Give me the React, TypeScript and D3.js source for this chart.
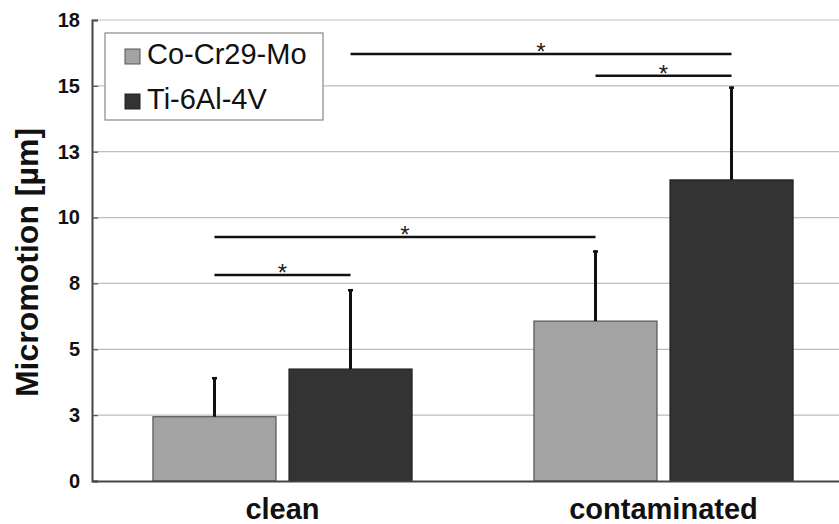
import React, { useRef, useEffect } from 'react';
import * as d3 from 'd3';

const categories = ['clean', 'contaminated'];
const seriesNames = ['Co-Cr29-Mo', 'Ti-6Al-4V'];
const coCrValues = [2.44, 6.07];
const coCrErrors = [1.5, 2.68];
const tiValues = [4.25, 11.43];
const tiErrors = [3.03, 3.54];
const yTicks = [0, 2.5, 5, 7.5, 10, 12.5, 15, 17.5];
const yTickLabels = ['0', '3', '5', '8', '10', '13', '15', '18'];
// significance brackets: [category, series] -> [category, series] at a height
const sigLines = [
  { from: [0, 0], to: [0, 1], level: 7.82 },
  { from: [0, 0], to: [1, 0], level: 9.26 },
  { from: [0, 1], to: [1, 1], level: 16.21 },
  { from: [1, 0], to: [1, 1], level: 15.38 },
];

const W = 839;
const H = 524;
const FONT = '"Liberation Sans", Arial, Helvetica, sans-serif';
const colors = ['#a3a3a3', '#333333'];
const strokes = ['#555555', '#222222'];

const App = () => {
  const ref = useRef<SVGSVGElement>(null);

  useEffect(() => {
    const margin = { top: 20, left: 92, bottom: 43, right: -15 };

    const x0 = d3.scaleBand()
      .domain(categories)
      .range([margin.left, W - margin.right])
      .padding(0);

    const x1 = d3.scaleBand()
      .domain(seriesNames)
      .range([0, x0.bandwidth()])
      .paddingInner(0.0956)
      .paddingOuter(0.448);

    const y = d3.scaleLinear()
      .domain([0, 17.5])
      .range([H - margin.bottom, margin.top]);

    const svg = d3.select(ref.current);
    svg.selectAll('*').remove();

    const data = seriesNames.map((name, s) => ({
      name,
      values: s === 0 ? coCrValues : tiValues,
      errors: s === 0 ? coCrErrors : tiErrors,
    }));

    const cx = (c: number, s: number) =>
      (x0(categories[c]) as number) + (x1(seriesNames[s]) as number) + x1.bandwidth() / 2;

    // gridlines
    svg.append('g')
      .selectAll('line')
      .data(yTicks.slice(1))
      .join('line')
      .attr('x1', margin.left)
      .attr('x2', W)
      .attr('y1', d => y(d))
      .attr('y2', d => y(d))
      .attr('stroke', '#bdbdbd')
      .attr('stroke-width', 1.2);

    // bars
    data.forEach((ser, s) => {
      const g = svg.append('g');
      g.selectAll('rect')
        .data(ser.values)
        .join('rect')
        .attr('x', (d, i) => (x0(categories[i]) as number) + (x1(ser.name) as number))
        .attr('y', d => y(d))
        .attr('width', x1.bandwidth())
        .attr('height', d => y(0) - y(d))
        .attr('fill', colors[s])
        .attr('stroke', strokes[s])
        .attr('stroke-width', 1.2);

      // error bars (upper only)
      g.selectAll('line.err')
        .data(ser.values)
        .join('line')
        .attr('class', 'err')
        .attr('x1', (d, i) => cx(i, s))
        .attr('x2', (d, i) => cx(i, s))
        .attr('y1', d => y(d))
        .attr('y2', (d, i) => y(d + ser.errors[i]))
        .attr('stroke', '#111')
        .attr('stroke-width', 3);

      g.selectAll('line.cap')
        .data(ser.values)
        .join('line')
        .attr('class', 'cap')
        .attr('x1', (d, i) => cx(i, s) - 2.5)
        .attr('x2', (d, i) => cx(i, s) + 2.5)
        .attr('y1', (d, i) => y(d + ser.errors[i]) + 1)
        .attr('y2', (d, i) => y(d + ser.errors[i]) + 1)
        .attr('stroke', '#111')
        .attr('stroke-width', 2.5);
    });

    // significance lines
    const sig = svg.append('g');
    sig.selectAll('line')
      .data(sigLines)
      .join('line')
      .attr('x1', d => cx(d.from[0], d.from[1]))
      .attr('x2', d => cx(d.to[0], d.to[1]))
      .attr('y1', d => y(d.level))
      .attr('y2', d => y(d.level))
      .attr('stroke', '#111')
      .attr('stroke-width', 2.5);
    sig.selectAll('text')
      .data(sigLines)
      .join('text')
      .attr('x', d => (cx(d.from[0], d.from[1]) + cx(d.to[0], d.to[1])) / 2)
      .attr('y', d => y(d.level) + 6)
      .attr('text-anchor', 'middle')
      .attr('font-family', FONT)
      .attr('font-size', 24)
      .attr('fill', '#222')
      .text('*');

    // y axis
    const yAxis = svg.append('g')
      .attr('transform', `translate(${margin.left},0)`)
      .call(d3.axisLeft(y).tickValues(yTicks).tickSize(-6).tickPadding(12)
        .tickFormat((d, i) => yTickLabels[i]));
    yAxis.select('.domain').attr('stroke', '#444').attr('stroke-width', 2);
    yAxis.selectAll('.tick line').attr('stroke', '#555').attr('stroke-width', 1.2);
    yAxis.selectAll('.tick text')
      .attr('font-family', FONT)
      .attr('font-size', 20)
      .attr('font-weight', 'bold')
      .attr('fill', '#111');

    // x axis
    const xAxis = svg.append('g')
      .attr('transform', `translate(0,${y(0)})`)
      .call(d3.axisBottom(x0).tickSize(0).tickPadding(17));
    xAxis.select('.domain').attr('stroke', '#444').attr('stroke-width', 2);
    xAxis.selectAll('.tick text')
      .attr('font-family', FONT)
      .attr('font-size', 29)
      .attr('font-weight', 'bold')
      .attr('fill', '#111');

    // y axis title
    svg.append('text')
      .attr('transform', `translate(38,${(y(0) + y(17.5)) / 2 + 12}) rotate(-90)`)
      .attr('text-anchor', 'middle')
      .attr('font-family', FONT)
      .attr('font-size', 32)
      .attr('font-weight', 'bold')
      .attr('fill', '#111')
      .text('Micromotion [µm]');

    // legend
    const legend = svg.append('g').attr('transform', 'translate(105,33)');
    legend.append('rect')
      .attr('width', 218)
      .attr('height', 87)
      .attr('fill', '#fff')
      .attr('stroke', '#888')
      .attr('stroke-width', 1.2);
    seriesNames.forEach((name, s) => {
      legend.append('rect')
        .attr('x', 20)
        .attr('y', 16 + s * 45)
        .attr('width', 15)
        .attr('height', 15)
        .attr('fill', colors[s])
        .attr('stroke', strokes[s]);
      legend.append('text')
        .attr('x', 42)
        .attr('y', 31 + s * 45)
        .attr('font-family', FONT)
        .attr('font-size', 29)
        .attr('fill', '#111')
        .text(name);
    });
  }, []);

  return (
    <svg
      ref={ref}
      width={W}
      height={H}
      style={{ position: 'absolute', left: 0, top: 0, background: '#fff' }}
    ></svg>
  );
};

export default App;
